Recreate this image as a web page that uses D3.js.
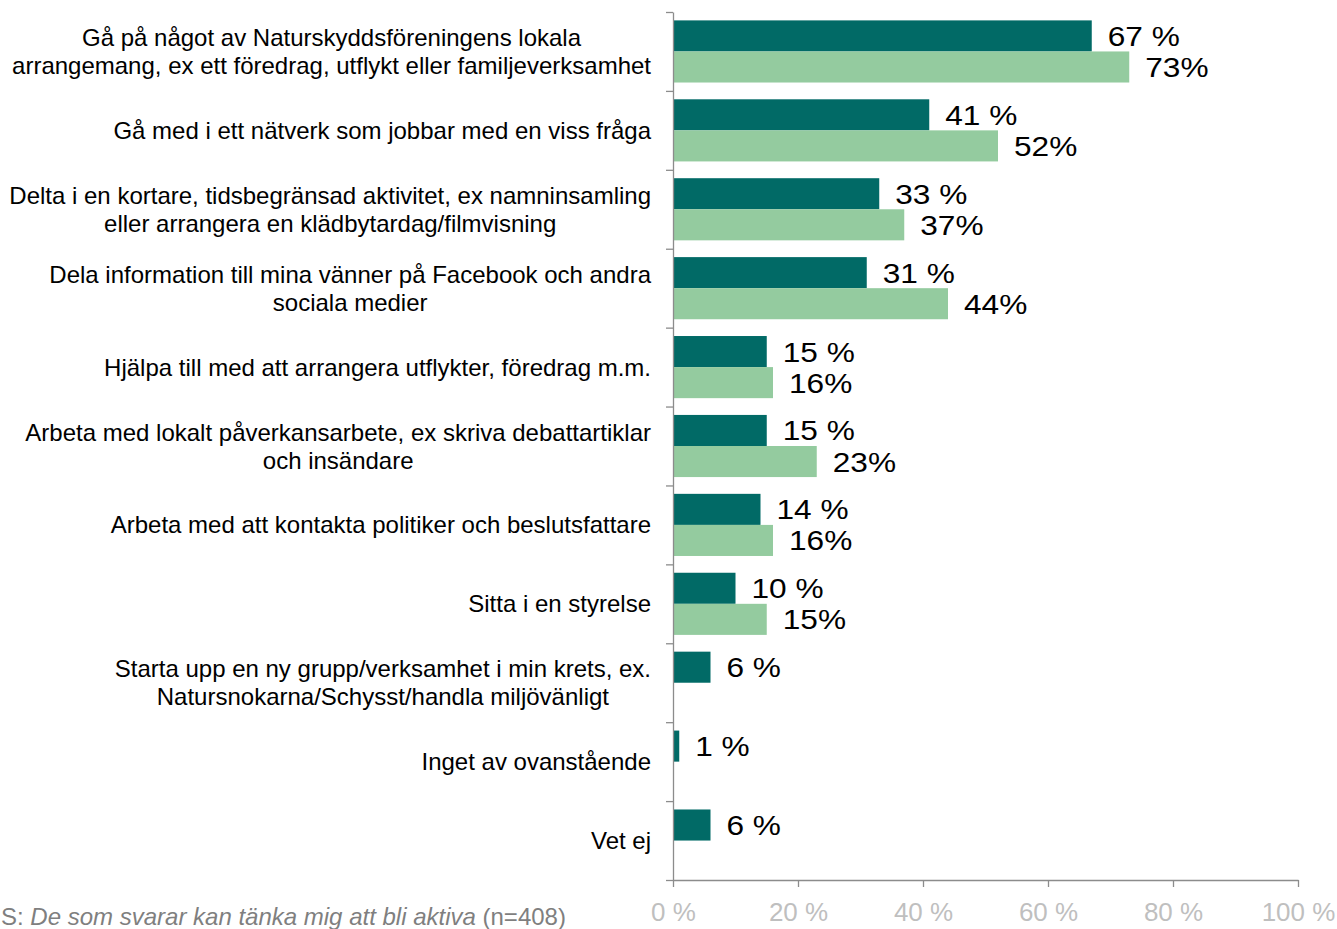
<!DOCTYPE html>
<html>
  <head>
    <meta charset="utf-8">
    <script src="https://d3js.org/d3.v7.min.js"></script>
    <title>Aktiviteter</title>
    <style>
      body { margin: 0px; background: #fff; }
      svg { display: block; font-family: 'Liberation Sans', Arial, sans-serif; }
      .axis path, .axis line { stroke: #8c8c8c; stroke-width: 1.3; }
      .x-axis text { fill: #bfbfbf; font-size: 26px; }
      .cat-label { fill: #000; font-size: 24px; }
      .val-label { fill: #000; font-size: 28px; }
      .note { fill: #7f7f7f; font-size: 24px; }
    </style>
  </head>
  <body>
    <svg width="1337" height="929"></svg>
    <script>
      const categories = [
        ['Gå på något av Naturskyddsföreningens lokala', 'arrangemang, ex ett föredrag, utflykt eller familjeverksamhet'],
        ['Gå med i ett nätverk som jobbar med en viss fråga'],
        ['Delta i en kortare, tidsbegränsad aktivitet, ex namninsamling', 'eller arrangera en klädbytardag/filmvisning'],
        ['Dela information till mina vänner på Facebook och andra', 'sociala medier'],
        ['Hjälpa till med att arrangera utflykter, föredrag m.m.'],
        ['Arbeta med lokalt påverkansarbete, ex skriva debattartiklar', 'och insändare'],
        ['Arbeta med att kontakta politiker och beslutsfattare'],
        ['Sitta i en styrelse'],
        ['Starta upp en ny grupp/verksamhet i min krets, ex.', 'Natursnokarna/Schysst/handla miljövänligt'],
        ['Inget av ovanstående'],
        ['Vet ej']
      ];
      const darkValues = [67, 41, 33, 31, 15, 15, 14, 10, 6, 1, 6];
      const lightValues = [73, 52, 37, 44, 16, 23, 16, 15, null, null, null];
      const xTicks = [0, 20, 40, 60, 80, 100];

      const darkColor = '#016a66';
      const lightColor = '#94cb9f';

      const svg = d3.select('svg');
      const plotLeft = 673, plotRight = 1298, plotTop = 12, plotBottom = 880;

      const xScale = d3.scaleLinear().domain([0, 100]).range([plotLeft, plotRight]);
      const yScale = d3.scaleBand().domain(d3.range(categories.length)).range([plotTop, plotBottom]);
      const inner = d3.scaleBand().domain(['dark', 'light'])
        .range([0, yScale.bandwidth()]).paddingOuter(0.27);
      const yTickScale = d3.scaleLinear().domain([0, categories.length]).range([plotTop, plotBottom]);

      const rows = categories.map((c, i) => ({ i, lines: c, dark: darkValues[i], light: lightValues[i] }));

      // bars
      const barsG = svg.append('g');
      rows.forEach(r => {
        [['dark', r.dark, darkColor, ' %'], ['light', r.light, lightColor, '%']].forEach(([key, v, col, suf]) => {
          if (v == null) return;
          const y = yScale(r.i) + inner(key);
          barsG.append('rect')
            .attr('x', xScale(0))
            .attr('y', y)
            .attr('width', xScale(v) - xScale(0))
            .attr('height', inner.bandwidth())
            .attr('fill', col);
          // the value labels in the original are a bit wide, stretch them
          barsG.append('text')
            .attr('class', 'val-label')
            .attr('transform', `translate(${xScale(v) + 16},${y + inner.bandwidth() / 2 + 10}) scale(1.13,1)`)
            .text(v + suf);
        });
      });

      // axes
      svg.append('g')
        .attr('class', 'axis y-axis')
        .attr('transform', `translate(${plotLeft},0)`)
        .call(d3.axisLeft(yTickScale).ticks(categories.length).tickFormat('').tickSize(7).tickSizeOuter(0));

      const xAxisG = svg.append('g')
        .attr('class', 'axis x-axis')
        .attr('transform', `translate(0,${plotBottom})`)
        .call(d3.axisBottom(xScale).tickValues(xTicks).tickFormat(d => d + ' %').tickSize(7).tickSizeOuter(0).tickPadding(16));
      xAxisG.attr('font-family', null).attr('font-size', null);

      // category labels: block right-aligned, lines centered
      const labelsG = svg.append('g');
      rows.forEach(r => {
        const cy = yScale(r.i) + yScale.bandwidth() / 2;
        const lh = 28;
        const texts = r.lines.map((l, k) => labelsG.append('text')
          .attr('class', 'cat-label')
          .attr('text-anchor', 'middle')
          .attr('y', cy + (k - (r.lines.length - 1) / 2) * lh + 8.5)
          .text(l));
        const w = d3.max(texts, t => t.node().getComputedTextLength());
        texts.forEach(t => t.attr('x', 651 - w / 2));
      });

      // note
      const note = svg.append('text').attr('class', 'note').attr('x', 1).attr('y', 925);
      note.append('tspan').text('S: ');
      note.append('tspan').attr('font-style', 'italic').text('De som svarar kan tänka mig att bli aktiva');
      note.append('tspan').text(' (n=408)');
    </script>
  </body>
</html>
